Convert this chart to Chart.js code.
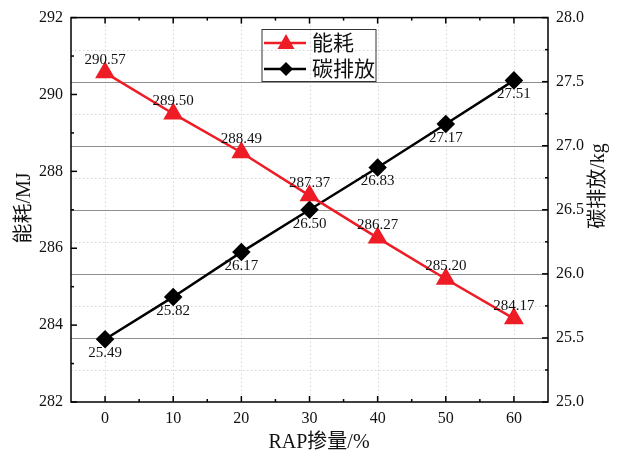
<!DOCTYPE html>
<html>
<head>
<meta charset="utf-8">
<script src="https://cdn.jsdelivr.net/npm/chart.js@4.4.1/dist/chart.umd.min.js"></script>
<style>
  html, body { margin: 0; padding: 0; background: #fff; }
  #wrap { width: 622px; height: 461px; }
</style>
</head>
<body>
<div id="wrap"><canvas id="c" width="622" height="461"></canvas></div>
<script>
const rapContent = [0, 10, 20, 30, 40, 50, 60];
const energy = [290.57, 289.50, 288.49, 287.37, 286.27, 285.20, 284.17];
const carbon = [25.49, 25.82, 26.17, 26.50, 26.83, 27.17, 27.51];
const xTicks = [0, 10, 20, 30, 40, 50, 60];
const leftTicks = [282, 284, 286, 288, 290, 292];
const rightTicks = [25.0, 25.5, 26.0, 26.5, 27.0, 27.5, 28.0];

const serif = "'Liberation Serif', 'Times New Roman', 'Noto Sans CJK SC', serif";
const RED = "#ee1c25";

// frame, inward ticks, grid, labels, legend and axis titles (Origin style)
const originStyle = {
  id: "originStyle",
  beforeDatasetsDraw(chart) {
    const { ctx, chartArea: a, scales } = chart;
    const x = scales.x, y1 = scales.y1;
    ctx.save();
    ctx.lineWidth = 1;
    // dotted vertical grid
    ctx.strokeStyle = "#d4d4d4";
    ctx.setLineDash([1.5, 2.5]);
    xTicks.forEach(v => {
      const px = Math.round(x.getPixelForValue(v)) + 0.5;
      ctx.beginPath(); ctx.moveTo(px, a.top); ctx.lineTo(px, a.bottom); ctx.stroke();
    });
    // dotted horizontal minor grid of right axis
    for (let i = 0; i < rightTicks.length - 1; i++) {
      const v = (rightTicks[i] + rightTicks[i + 1]) / 2;
      const py = Math.round(y1.getPixelForValue(v)) + 0.5;
      ctx.beginPath(); ctx.moveTo(a.left, py); ctx.lineTo(a.right, py); ctx.stroke();
    }
    // solid major grid of right axis
    ctx.setLineDash([]);
    ctx.strokeStyle = "#8f8f8f";
    rightTicks.slice(1, -1).forEach(v => {
      const py = Math.round(y1.getPixelForValue(v)) + 0.5;
      ctx.beginPath(); ctx.moveTo(a.left, py); ctx.lineTo(a.right, py); ctx.stroke();
    });
    ctx.restore();
  },
  afterDatasetsDraw(chart) {
    const { ctx, chartArea: a, scales } = chart;
    const x = scales.x, y = scales.y, y1 = scales.y1;
    ctx.save();
    // value labels
    ctx.font = "15px " + serif;
    ctx.fillStyle = "#111";
    ctx.textAlign = "center";
    ctx.textBaseline = "middle";
    chart.getDatasetMeta(0).data.forEach((p, i) => {
      ctx.fillText(energy[i].toFixed(2), p.x, p.y - 13);
    });
    chart.getDatasetMeta(1).data.forEach((p, i) => {
      ctx.fillText(carbon[i].toFixed(2), p.x, p.y + 14);
    });

    // frame
    ctx.strokeStyle = "#000";
    ctx.lineWidth = 1.5;
    ctx.strokeRect(a.left, a.top, a.right - a.left, a.bottom - a.top);

    // inward ticks
    ctx.lineWidth = 1.5;
    const tick = (x0, y0, x1, y1p) => { ctx.beginPath(); ctx.moveTo(x0, y0); ctx.lineTo(x1, y1p); ctx.stroke(); };
    xTicks.forEach((v, i) => {
      const px = x.getPixelForValue(v);
      tick(px, a.bottom, px, a.bottom - 6);
      tick(px, a.top, px, a.top + 6);
      if (i < xTicks.length - 1) {
        const mx = x.getPixelForValue((v + xTicks[i + 1]) / 2);
        tick(mx, a.bottom, mx, a.bottom - 3);
        tick(mx, a.top, mx, a.top + 3);
      }
    });
    leftTicks.forEach((v, i) => {
      const py = y.getPixelForValue(v);
      tick(a.left, py, a.left + 6, py);
      if (i < leftTicks.length - 1) {
        const my = y.getPixelForValue((v + leftTicks[i + 1]) / 2);
        tick(a.left, my, a.left + 3, my);
      }
    });
    rightTicks.forEach((v, i) => {
      const py = y1.getPixelForValue(v);
      tick(a.right, py, a.right - 6, py);
      if (i < rightTicks.length - 1) {
        const my = y1.getPixelForValue((v + rightTicks[i + 1]) / 2);
        tick(a.right, my, a.right - 3, my);
      }
    });

    // legend
    const lx = 262, ly = 29.5, lw = 114, lh = 52;
    ctx.lineWidth = 1;
    ctx.strokeStyle = "#333";
    ctx.strokeRect(lx, ly, lw, lh);
    const rows = [
      { ds: chart.data.datasets[0], y: 43 },
      { ds: chart.data.datasets[1], y: 69 }
    ];
    ctx.font = "21px " + serif;
    ctx.textAlign = "left";
    rows.forEach(r => {
      ctx.strokeStyle = r.ds.borderColor;
      ctx.lineWidth = 2.5;
      tick(lx + 2, r.y, lx + 44, r.y);
      ctx.fillStyle = r.ds.pointBackgroundColor;
      ctx.beginPath();
      if (r.ds.pointStyle === "triangle") {
        ctx.moveTo(lx + 24, r.y - 9);
        ctx.lineTo(lx + 32.5, r.y + 6);
        ctx.lineTo(lx + 15.5, r.y + 6);
      } else {
        ctx.moveTo(lx + 24, r.y - 7);
        ctx.lineTo(lx + 31, r.y);
        ctx.lineTo(lx + 24, r.y + 7);
        ctx.lineTo(lx + 17, r.y);
      }
      ctx.closePath();
      ctx.fill();
      ctx.fillStyle = "#111";
      ctx.fillText(r.ds.label, lx + 50, r.y + 1);
    });

    // axis titles
    ctx.fillStyle = "#111";
    ctx.font = "20px " + serif;
    ctx.textAlign = "center";
    ctx.fillText("RAP掺量/%", 319, 443);
    ctx.save();
    ctx.translate(25, 208);
    ctx.rotate(-Math.PI / 2);
    ctx.fillText("能耗/MJ", 0, 0);
    ctx.restore();
    ctx.save();
    ctx.translate(599, 186);
    ctx.rotate(-Math.PI / 2);
    ctx.fillText("碳排放/kg", 0, 0);
    ctx.restore();
    ctx.restore();
  }
};

const tickFont = { family: serif, size: 16 };

new Chart(document.getElementById("c"), {
  type: "line",
  data: {
    datasets: [
      {
        label: "能耗",
        data: rapContent.map((v, i) => ({ x: v, y: energy[i] })),
        yAxisID: "y",
        borderColor: RED,
        backgroundColor: RED,
        pointBackgroundColor: RED,
        pointBorderColor: RED,
        pointStyle: "triangle",
        pointRadius: 9,
        borderWidth: 2.5,
        tension: 0
      },
      {
        label: "碳排放",
        data: rapContent.map((v, i) => ({ x: v, y: carbon[i] })),
        yAxisID: "y1",
        borderColor: "#000",
        backgroundColor: "#000",
        pointBackgroundColor: "#000",
        pointBorderColor: "#000",
        pointStyle: "rectRot",
        pointRadius: 7.5,
        borderWidth: 2.5,
        tension: 0
      }
    ]
  },
  options: {
    responsive: false,
    animation: false,
    layout: { padding: { top: 17, left: 0, right: 0, bottom: 0 } },
    plugins: { legend: { display: false }, tooltip: { enabled: false } },
    scales: {
      x: {
        type: "linear",
        min: -5,
        max: 65,
        afterBuildTicks: s => { s.ticks = xTicks.map(v => ({ value: v })); },
        afterFit: s => { s.height = 59; },
        grid: { display: false, drawTicks: false },
        border: { display: false },
        ticks: { font: tickFont, color: "#111", padding: 7, maxRotation: 0 }
      },
      y: {
        position: "left",
        min: 282,
        max: 292,
        afterBuildTicks: s => { s.ticks = leftTicks.map(v => ({ value: v })); },
        afterFit: s => { s.width = 71; },
        grid: { display: false, drawTicks: false },
        border: { display: false },
        ticks: { font: tickFont, color: "#111", padding: 8 }
      },
      y1: {
        position: "right",
        min: 25,
        max: 28,
        afterBuildTicks: s => { s.ticks = rightTicks.map(v => ({ value: v })); },
        afterFit: s => { s.width = 74; },
        grid: { display: false, drawTicks: false },
        border: { display: false },
        ticks: { font: tickFont, color: "#111", padding: 8, callback: v => Number(v).toFixed(1) }
      }
    }
  },
  plugins: [originStyle]
});
</script>
</body>
</html>
